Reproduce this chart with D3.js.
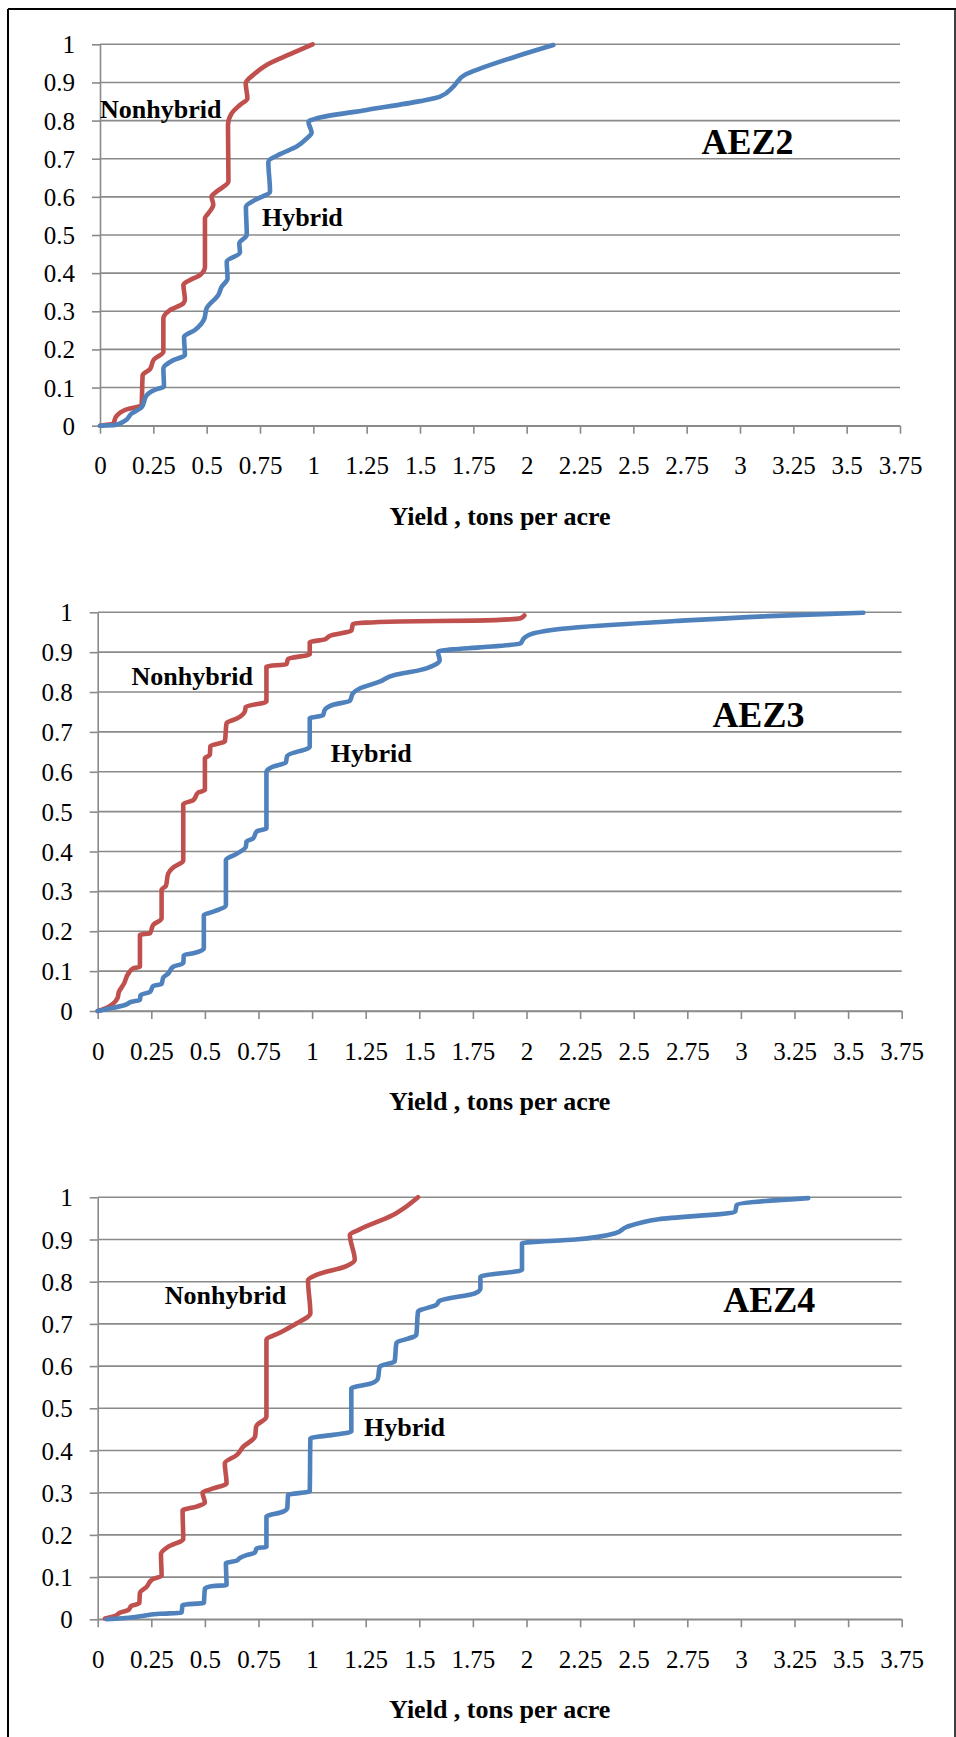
<!DOCTYPE html>
<html>
<head>
<meta charset="utf-8">
<script src="https://cdn.jsdelivr.net/npm/d3@7"></script>
<style>
  body { margin: 0; background: #fff; }
  svg { display: block; }
  svg text { font-family: "Liberation Serif", "Times New Roman", serif; }
</style>
</head>
<body>
<svg id="svg" width="956" height="1737"></svg>
<script>
// tick labels
const xTicks = [0, 0.25, 0.5, 0.75, 1, 1.25, 1.5, 1.75, 2, 2.25, 2.5, 2.75, 3, 3.25, 3.5, 3.75]
const yTicks = [0, 0.1, 0.2, 0.3, 0.4, 0.5, 0.6, 0.7, 0.8, 0.9, 1]
const xTitle = "Yield , tons per acre"
const zones = ["AEZ2", "AEZ3", "AEZ4"]
const seriesNames = ["Nonhybrid", "Hybrid"]

// cumulative share of farms vs yield
const aez2Nonhybrid = [[0,0],[0.0625,0.006],[0.075,0.024],[0.125,0.043],[0.195,0.054],[0.2,0.133],[0.234,0.148],[0.253,0.174],[0.297,0.194],[0.297,0.281],[0.328,0.303],[0.391,0.321],[0.398,0.331],[0.391,0.369],[0.422,0.382],[0.469,0.395],[0.492,0.417],[0.492,0.544],[0.508,0.557],[0.531,0.579],[0.523,0.601],[0.547,0.614],[0.602,0.64],[0.6,0.788],[0.617,0.819],[0.656,0.841],[0.691,0.858],[0.683,0.898],[0.719,0.92],[0.781,0.946],[0.891,0.974],[0.997,1]]
const aez2Hybrid = [[0,0],[0.07,0.002],[0.117,0.013],[0.148,0.032],[0.195,0.048],[0.219,0.08],[0.266,0.096],[0.3,0.102],[0.297,0.15],[0.344,0.172],[0.398,0.185],[0.394,0.233],[0.445,0.251],[0.488,0.279],[0.5,0.308],[0.555,0.343],[0.57,0.364],[0.598,0.386],[0.594,0.43],[0.656,0.454],[0.653,0.478],[0.688,0.5],[0.684,0.574],[0.727,0.592],[0.797,0.614],[0.789,0.692],[0.844,0.712],[0.922,0.732],[0.969,0.753],[0.992,0.768],[0.977,0.797],[1.016,0.806],[1.25,0.828],[1.5,0.851],[1.594,0.863],[1.656,0.889],[1.711,0.92],[1.781,0.936],[1.95,0.968],[2.125,0.998]]

const aez3Nonhybrid = [[0,0],[0.042,0.008],[0.073,0.019],[0.092,0.032],[0.099,0.048],[0.123,0.069],[0.143,0.094],[0.166,0.107],[0.197,0.111],[0.197,0.191],[0.244,0.195],[0.259,0.216],[0.298,0.232],[0.298,0.304],[0.318,0.314],[0.329,0.345],[0.352,0.36],[0.399,0.377],[0.399,0.519],[0.446,0.529],[0.469,0.548],[0.5,0.554],[0.5,0.634],[0.523,0.642],[0.526,0.665],[0.593,0.676],[0.601,0.722],[0.651,0.734],[0.686,0.751],[0.691,0.763],[0.787,0.776],[0.787,0.864],[0.88,0.87],[0.888,0.883],[0.989,0.895],[0.989,0.925],[1.059,0.932],[1.083,0.941],[1.183,0.954],[1.191,0.971],[1.408,0.977],[1.762,0.979],[1.972,0.985],[1.99,0.992]]
const aez3Hybrid = [[0,0],[0.073,0.008],[0.127,0.015],[0.158,0.023],[0.197,0.028],[0.2,0.04],[0.244,0.048],[0.259,0.063],[0.298,0.068],[0.306,0.084],[0.329,0.094],[0.352,0.111],[0.399,0.12],[0.402,0.14],[0.446,0.145],[0.495,0.157],[0.495,0.241],[0.539,0.249],[0.598,0.266],[0.598,0.379],[0.648,0.394],[0.691,0.412],[0.694,0.425],[0.725,0.433],[0.741,0.45],[0.787,0.458],[0.787,0.6],[0.818,0.613],[0.877,0.623],[0.884,0.64],[0.989,0.663],[0.989,0.734],[1.051,0.742],[1.059,0.755],[1.098,0.768],[1.176,0.778],[1.191,0.797],[1.222,0.809],[1.315,0.826],[1.385,0.843],[1.502,0.855],[1.571,0.868],[1.595,0.88],[1.587,0.901],[1.657,0.907],[1.781,0.912],[1.972,0.922],[1.99,0.936],[2.03,0.947],[2.228,0.962],[2.694,0.978],[3.16,0.991],[3.571,0.999]]

const aez4Nonhybrid = [[0.034,0.002],[0.081,0.008],[0.104,0.016],[0.143,0.022],[0.158,0.032],[0.194,0.038],[0.197,0.063],[0.228,0.077],[0.256,0.095],[0.298,0.103],[0.295,0.155],[0.329,0.172],[0.399,0.19],[0.396,0.258],[0.461,0.267],[0.5,0.276],[0.489,0.3],[0.539,0.31],[0.601,0.322],[0.593,0.37],[0.648,0.389],[0.679,0.409],[0.734,0.433],[0.739,0.457],[0.787,0.48],[0.787,0.662],[0.849,0.679],[0.927,0.701],[0.992,0.725],[0.981,0.804],[1.02,0.816],[1.16,0.837],[1.199,0.852],[1.176,0.911],[1.222,0.924],[1.377,0.958],[1.439,0.978],[1.494,1]]
const aez4Hybrid = [[0.042,0],[0.166,0.005],[0.29,0.013],[0.391,0.016],[0.396,0.034],[0.495,0.039],[0.5,0.073],[0.539,0.079],[0.601,0.081],[0.598,0.133],[0.648,0.139],[0.663,0.145],[0.694,0.152],[0.733,0.158],[0.741,0.168],[0.787,0.172],[0.787,0.243],[0.865,0.255],[0.884,0.263],[0.888,0.295],[0.989,0.303],[0.992,0.429],[1.098,0.437],[1.183,0.445],[1.183,0.547],[1.276,0.559],[1.307,0.571],[1.315,0.599],[1.385,0.611],[1.393,0.654],[1.486,0.674],[1.494,0.729],[1.579,0.745],[1.595,0.755],[1.762,0.773],[1.785,0.784],[1.785,0.812],[1.979,0.828],[1.979,0.891],[2.228,0.9],[2.414,0.915],[2.468,0.93],[2.616,0.948],[2.973,0.966],[2.981,0.982],[3.314,0.998]]

// label anchors in data units [nonhybrid, hybrid, zone]
const labelSpots = [
  [[0, 0.807], [0.759, 0.524], [2.82, 0.712]],
  [[0.158, 0.818], [1.087, 0.625], [2.867, 0.713]],
  [[0.313, 0.747], [1.242, 0.435], [2.918, 0.729]]
]

const panels = [
  {left: 100, right: 900, top: 44.3, bottom: 425.7, series: [aez2Nonhybrid, aez2Hybrid]},
  {left: 97.7, right: 901.7, top: 612.3, bottom: 1011, series: [aez3Nonhybrid, aez3Hybrid]},
  {left: 97.7, right: 901.7, top: 1197.3, bottom: 1619.3, series: [aez4Nonhybrid, aez4Hybrid]}
]
const colors = ["#C0504D", "#4F81BD"]
const grid = "#8a8a8a"
const serif = '"Liberation Serif", "Times New Roman", serif'

const svg = d3.select("#svg")

// frame
svg.append("line").attr("x1", 8).attr("x2", 956).attr("y1", 9).attr("y2", 9).attr("stroke", "#000").attr("stroke-width", 2)
svg.append("line").attr("x1", 8).attr("x2", 8).attr("y1", 9).attr("y2", 1737).attr("stroke", "#000").attr("stroke-width", 2)
svg.append("line").attr("x1", 955).attr("x2", 955).attr("y1", 9).attr("y2", 1737).attr("stroke", "#000").attr("stroke-width", 1.5)

panels.forEach((p, i) => {
  const x = d3.scaleLinear([0, 3.75], [p.left, p.right])
  const y = d3.scaleLinear([0, 1], [p.bottom, p.top])
  const g = svg.append("g")

  // horizontal gridlines
  g.selectAll("line.grid").data(yTicks).join("line")
    .attr("x1", p.left).attr("x2", p.right)
    .attr("y1", d => y(d)).attr("y2", d => y(d))
    .attr("stroke", grid).attr("stroke-width", 1.6)

  const yAxis = g.append("g").attr("transform", `translate(${p.left},0)`)
    .call(d3.axisLeft(y).tickValues(yTicks).tickSize(8).tickSizeOuter(0).tickPadding(17).tickFormat(d3.format("")))
  yAxis.select(".domain").attr("stroke", grid).attr("stroke-width", 1.6)
  yAxis.selectAll(".tick line").attr("stroke", grid).attr("stroke-width", 1.6)
  yAxis.selectAll("text").style("font-family", serif).style("font-size", "25px").attr("fill", "#000").attr("dy", "0.34em")

  const xAxis = g.append("g").attr("transform", `translate(0,${p.bottom})`)
    .call(d3.axisBottom(x).tickValues(xTicks).tickSize(8).tickSizeOuter(0).tickPadding(23).tickFormat(d3.format("")))
  xAxis.select(".domain").attr("stroke", grid).attr("stroke-width", 1.6)
  xAxis.selectAll(".tick line").attr("stroke", grid).attr("stroke-width", 1.6)
  xAxis.selectAll("text").style("font-family", serif).style("font-size", "25px").attr("fill", "#000")

  // x as a smooth function of the cumulative share
  const line = d3.line().x(d => x(d[0])).y(d => y(d[1])).curve(d3.curveMonotoneY)
  g.selectAll("path.cdf").data(p.series).join("path")
    .attr("class", "cdf")
    .attr("d", d => line(d))
    .attr("fill", "none")
    .attr("stroke", (_, k) => colors[k])
    .attr("stroke-width", 4.6)
    .attr("stroke-linejoin", "round")
    .attr("stroke-linecap", "round")

  const spots = labelSpots[i]
  const texts = [seriesNames[0], seriesNames[1], zones[i]]
  g.selectAll("text.lab").data(texts).join("text")
    .attr("class", "lab")
    .attr("x", (_, k) => x(spots[k][0]))
    .attr("y", (_, k) => y(spots[k][1]))
    .style("font-family", serif)
    .style("font-size", (_, k) => k === 2 ? "36px" : "26px")
    .style("font-weight", "bold")
    .text(d => d)

  g.append("text")
    .attr("x", (p.left + p.right) / 2)
    .attr("y", p.bottom + 99)
    .attr("text-anchor", "middle")
    .style("font-family", serif)
    .style("font-size", "26px")
    .style("font-weight", "bold")
    .text(xTitle)
})
</script>
</body>
</html>
